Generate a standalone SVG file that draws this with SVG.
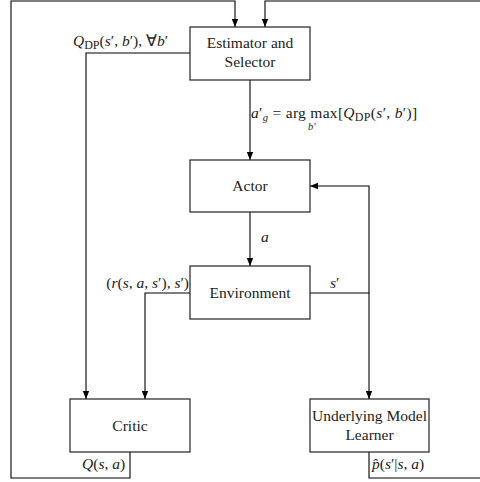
<svg xmlns="http://www.w3.org/2000/svg" width="480" height="482" viewBox="0 0 480 482">
<defs>
<marker id="ah" markerWidth="8" markerHeight="8" viewBox="0 0 8 8" refX="8" refY="4" orient="auto" markerUnits="userSpaceOnUse">
<path d="M0,0.8 L8,4 L0,7.2 Z" fill="#000"/>
</marker>
<style>
.box{fill:#fff;stroke:#222;stroke-width:1.2}
.ln{fill:none;stroke:#000;stroke-width:1.1}
.c{text-anchor:middle}
.i{font-style:italic}
.s{font-size:12px}
.ss{font-size:10.500px}
</style>
</defs>
<rect width="480" height="482" fill="#fff"/>
<g id="connectors">
<path class="ln" d="M130,452 V478 H11 V1 H235 V27" marker-end="url(#ah)"/>
<path class="ln" d="M369,452 V478 H482 V1 H265 V27" marker-end="url(#ah)"/>
<path class="ln" d="M190,53 H86 V399" marker-end="url(#ah)"/>
<path class="ln" d="M250,80 V160" marker-end="url(#ah)"/>
<path class="ln" d="M250,212 V266" marker-end="url(#ah)"/>
<path class="ln" d="M190,293 H145 V399" marker-end="url(#ah)"/>
<path class="ln" d="M310,293 H369 V186 H310" marker-end="url(#ah)"/>
<path class="ln" d="M369,293 V399" marker-end="url(#ah)"/>
</g>
<g id="labels" font-family="Liberation Serif, Times New Roman, serif" font-size="15.5" fill="#222">
<text x="73" y="46"><tspan class="i">Q</tspan><tspan class="s" dy="3">DP</tspan><tspan dy="-3">(</tspan><tspan class="i">s</tspan>′, <tspan class="i">b</tspan>′), ∀<tspan class="i">b</tspan>′</text>
<text x="251" y="118" letter-spacing="0.3"><tspan class="i">a</tspan>′<tspan class="ss i" dy="3">g</tspan><tspan dy="-3"> = arg max[</tspan><tspan class="i">Q</tspan><tspan class="s" dy="3">DP</tspan><tspan dy="-3">(</tspan><tspan class="i">s</tspan>′, <tspan class="i">b</tspan>′)]</text>
<text x="308" y="130" class="ss i">b′</text>
<text class="i" x="261" y="242">a</text>
<text x="189" y="288" text-anchor="end">(<tspan class="i">r</tspan>(<tspan class="i">s</tspan>, <tspan class="i">a</tspan>, <tspan class="i">s</tspan>′), <tspan class="i">s</tspan>′)</text>
<text x="330" y="288"><tspan class="i">s</tspan>′</text>
<text x="82" y="469"><tspan class="i">Q</tspan>(<tspan class="i">s</tspan>, <tspan class="i">a</tspan>)</text>
<text x="372" y="469"><tspan class="i">p̂</tspan>(<tspan class="i">s</tspan>′|<tspan class="i">s</tspan>, <tspan class="i">a</tspan>)</text>
</g>
<g font-family="Liberation Serif, Times New Roman, serif" font-size="15.5" fill="#222">
<g id="estimator">
<rect class="box" x="190" y="27" width="120" height="53"/>
<text class="c" x="250" y="48">Estimator and</text>
<text class="c" x="250" y="67">Selector</text>
</g>
<g id="actor">
<rect class="box" x="190" y="160" width="120" height="52"/>
<text class="c" x="250" y="191">Actor</text>
</g>
<g id="environment">
<rect class="box" x="190" y="266" width="120" height="53"/>
<text class="c" x="250" y="298">Environment</text>
</g>
<g id="critic">
<rect class="box" x="70" y="399" width="120" height="53"/>
<text class="c" x="130" y="431">Critic</text>
</g>
<g id="model">
<rect class="box" x="310" y="399" width="119" height="53"/>
<text class="c" x="369.500" y="421">Underlying Model</text>
<text class="c" x="369.500" y="440">Learner</text>
</g>
</g>
</svg>
